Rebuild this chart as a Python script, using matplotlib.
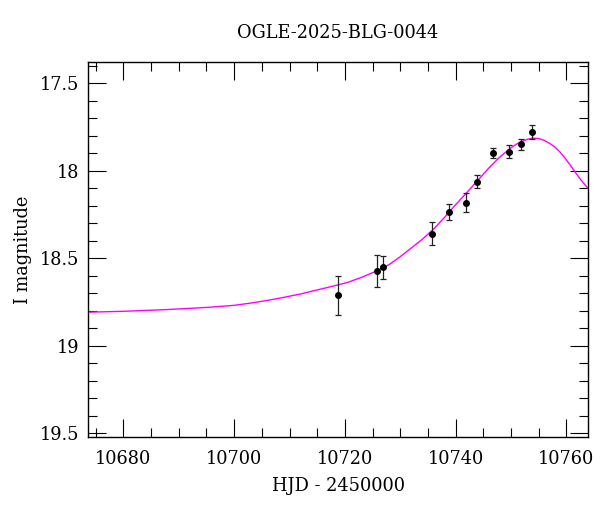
import matplotlib
matplotlib.use("Agg")
import matplotlib.pyplot as plt
from matplotlib.ticker import MultipleLocator, FuncFormatter

title = "OGLE-2025-BLG-0044"
xlabel = "HJD - 2450000"
ylabel = "I magnitude"

# observed photometry
obs_hjd = [10718.8, 10725.8, 10726.8, 10735.8, 10738.8, 10741.8, 10743.8,
           10746.8, 10749.7, 10751.8, 10753.7]
obs_mag = [18.71, 18.571, 18.551, 18.359, 18.235, 18.182, 18.062,
           17.898, 17.891, 17.849, 17.778]
obs_err = [0.112, 0.09, 0.066, 0.067, 0.045, 0.055, 0.036,
           0.031, 0.038, 0.032, 0.038]

# model curve
model_hjd = [10673.6, 10680, 10688, 10695, 10700, 10703, 10706, 10709, 10712,
             10715, 10718, 10720.5, 10723, 10725.5, 10728, 10730, 10732, 10734,
             10736, 10738, 10740, 10742, 10744, 10746, 10748, 10750, 10751, 10752,
             10753, 10754, 10755, 10756, 10757, 10758, 10758.8, 10759.7, 10760.6,
             10761.5, 10762.4, 10763.9]
model_mag = [18.807, 18.802, 18.792, 18.780, 18.768, 18.755, 18.740, 18.722, 18.703,
             18.680, 18.657, 18.637, 18.608, 18.575, 18.535, 18.490, 18.440, 18.390,
             18.333, 18.265, 18.193, 18.124, 18.054, 17.983, 17.920, 17.868, 17.847, 17.831,
             17.819, 17.813, 17.815, 17.826, 17.843, 17.866, 17.891, 17.925, 17.963,
             18.003, 18.043, 18.100]

plt.rcParams['font.family'] = ['DejaVu Serif']

fig = plt.figure(figsize=(6.0, 5.12), dpi=100)
ax = fig.add_axes([88/600, 1-437/512, 500/600, 375/512])

ax.plot(model_hjd, model_mag, color='#ff00ff', lw=1.0, zorder=2)
ax.errorbar(obs_hjd, obs_mag, yerr=obs_err, fmt='o', color='black', ms=4,
            ecolor='#222222', elinewidth=0.9, capsize=2.2, capthick=0.9, zorder=3)

ax.set_xlim(10673.6, 10763.9)
ax.set_ylim(19.52, 17.378)

ax.xaxis.set_major_locator(MultipleLocator(20))
ax.xaxis.set_minor_locator(MultipleLocator(5))
ax.yaxis.set_major_locator(MultipleLocator(0.5))
ax.yaxis.set_minor_locator(MultipleLocator(0.1))
ax.yaxis.set_major_formatter(FuncFormatter(lambda v, p: ('%g' % v)))

ax.tick_params(which='both', direction='in', top=True, right=True, width=0.8,
               labelsize=12.8, colors='black')
ax.tick_params(which='major', length=13)
ax.tick_params(which='minor', length=6.5)
ax.tick_params(axis='x', pad=9)
ax.tick_params(axis='y', pad=6)
for s in ax.spines.values():
    s.set_linewidth(1.0)

ax.set_title(title, fontsize=12.8, pad=17)
ax.set_xlabel(xlabel, fontsize=12.8, labelpad=7)
ax.set_ylabel(ylabel, fontsize=12.8, labelpad=6)

fig.savefig("out.png", dpi=100)
